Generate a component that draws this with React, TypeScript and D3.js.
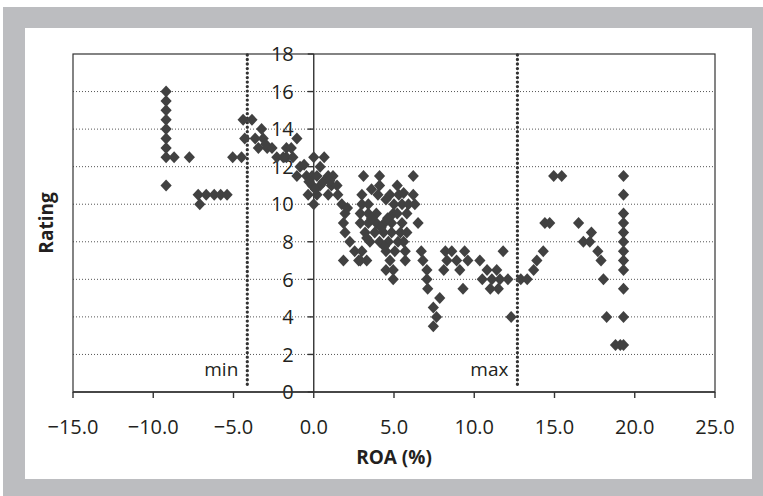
import React from "react";
import * as d3 from "d3";

// ROA (%) values and matching ratings
const roa: number[] = [
  -9.2, -9.2, -9.2, -9.2, -9.2, -9.2, -9.2, -9.2, -9.2,
  -8.7, -7.75,
  -7.2, -7.1, -6.7, -6.2, -5.8, -5.4,
  -5.05, -4.5, -4.3, -4.4, -3.85,
  -3.25, -3.65, -3.15, -3.45, -2.9, -2.6, -3.0,
  -2.3, -1.7, -1.3, -1.7, -1.4, -1.05, -0.85, -1.05, -0.45, -1.9,
  0, 0.65, 0.4, -0.1, 0.2, 0.9, 1.2, -0.1, 0.4, 1.1, 1.45, -0.35, 0.2, 0.9, 0, 1.5, 1.75,
  0.6, 0.1, -0.3, 1.0, -0.6,
  1.95, 1.85, 1.95, 2.25, 2.55, 2.8, 3.3, 1.85, 2.1,
  3.1, 4.1, 6.2,
  4.1, 5.2,
  3.0, 4.0, 4.75, 5.3, 6.2, 3.6, 5.6,
  3.0, 3.4, 5.5, 5.9, 6.3, 5.0, 4.5,
  2.9, 3.4, 3.9, 4.95, 5.2, 5.8,
  2.9, 3.4, 3.9, 4.4, 4.85, 6.5, 3.6, 4.6, 5.5,
  3.2, 3.8, 4.35, 4.85, 5.4, 5.8, 4.2,
  3.5, 4.1, 4.65, 5.25, 5.6, 3.3,
  4.5, 5.05, 5.7, 6.7, 3.0, 4.4,
  2.9, 4.75, 5.7, 6.8,
  4.5, 4.95, 7.05,
  4.95, 7.05,
  7.1, 7.85, 7.45, 7.65, 7.45,
  8.2, 8.6, 9.4, 11.8,
  8.3, 8.9, 9.6, 10.35,
  8.1, 9.1, 10.8, 11.4,
  10.5, 11.1, 11.6, 12.1,
  9.3, 11.0, 11.5,
  12.3,
  12.9, 13.3, 13.7, 13.9, 14.3, 14.4, 14.7, 14.95, 15.45, 16.5, 16.8, 17.3, 17.2, 17.7, 17.9, 18.05, 18.25, 18.8, 19.1,
  19.3, 19.3, 19.3, 19.3, 19.3, 19.3, 19.3, 19.3, 19.3, 19.3, 19.3, 19.3,
];

const rating: number[] = [
  16, 15.5, 15, 14.5, 14, 13.5, 13, 12.5, 11,
  12.5, 12.5,
  10.5, 10, 10.5, 10.5, 10.5, 10.5,
  12.5, 12.5, 13.5, 14.5, 14.5,
  14, 13.5, 13.5, 13, 13, 13, 13.2,
  12.5, 12.5, 12.5, 13, 13, 13.5, 12, 11.5, 11.5, 12.5,
  12.5, 12.5, 12, 11.5, 11.5, 11.5, 11.5, 11, 11, 11, 11, 10.5, 10.5, 10.5, 10, 10.5, 10,
  11.2, 10.8, 11.2, 11.25, 12.1,
  9.5, 9, 8.5, 8, 7.5, 7, 7, 7, 9.8,
  11.5, 11.5, 11.5,
  11, 11,
  10.5, 10.5, 10.5, 10.5, 10.5, 10.8, 10.6,
  10, 10, 10, 10, 10, 10, 10.25,
  9.5, 9.5, 9.5, 9.5, 9.5, 9.5,
  9, 9, 9, 9, 9, 9, 9.25, 9.25, 9,
  8.5, 8.5, 8.5, 8.5, 8.5, 8.5, 8.75,
  8, 8, 8, 8, 8, 8.2,
  7.5, 7.5, 7.5, 7.5, 7.5, 7.75,
  7, 7, 7, 7,
  6.5, 6.5, 6.5,
  6, 6,
  5.5, 5, 4.5, 4, 3.5,
  7.5, 7.5, 7.5, 7.5,
  7, 7, 7, 7,
  6.5, 6.5, 6.5, 6.5,
  6, 6, 6, 6,
  5.5, 5.5, 5.5,
  4,
  6, 6, 6.5, 7, 7.5, 9, 9, 11.5, 11.5, 9, 8, 8.5, 8, 7.5, 7, 6, 4, 2.5, 2.5,
  11.5, 10.5, 9.5, 9, 8.5, 8, 7.5, 7, 6.5, 5.5, 4, 2.5,
];

const xTicks: number[] = [-15, -10, -5, 0, 5, 10, 15, 20, 25];
const yTicks: number[] = [0, 2, 4, 6, 8, 10, 12, 14, 16, 18];
const gridValues: number[] = [2, 4, 6, 8, 10, 12, 14, 16];
const refLines: { label: string; value: number }[] = [
  { label: "min", value: -4.14 },
  { label: "max", value: 12.69 },
];

const W = 763;
const H = 496;
const FONT = "'Open Sans', 'Noto Sans', sans-serif";

export default function App() {
  const x = d3.scaleLinear().domain([-15, 25]).range([73, 715]);
  const y = d3.scaleLinear().domain([0, 18]).range([392, 54]);
  const points = roa.map((v, i) => ({ v, r: rating[i] }));
  const fmt = (t: number) => (t < 0 ? "\u2212" + Math.abs(t).toFixed(1) : t.toFixed(1));
  const diamond = "M0,-6L5.6,0L0,6L-5.6,0Z";
  const x0 = x(0);

  return (
    <svg
      width={W}
      height={H}
      style={{ position: "absolute", left: 0, top: 0, display: "block" }}
      fontFamily={FONT}
    >
      <rect x={0} y={0} width={W} height={H} fill="#ffffff" />
      <rect x={3} y={7} width={W - 3} height={H - 7} fill="#bcbdc0" />
      <rect x={25} y={28} width={727} height={451} fill="#ffffff" />

      {/* gridlines */}
      {gridValues.map((g) => (
        <line
          key={"g" + g}
          x1={x(-15)}
          x2={x(25)}
          y1={y(g)}
          y2={y(g)}
          stroke="#555"
          strokeWidth={1}
          strokeDasharray="1 2"
        />
      ))}

      {/* plot border */}
      <rect
        x={x(-15)}
        y={y(18)}
        width={x(25) - x(-15)}
        height={y(0) - y(18)}
        fill="none"
        stroke="#333"
        strokeWidth={1.2}
      />

      {/* reference lines */}
      {refLines.map((r) => (
        <g key={r.label}>
          <line
            x1={x(r.value)}
            x2={x(r.value)}
            y1={y(18) + 1}
            y2={y(0) - 5}
            stroke="#333"
            strokeWidth={3.3}
            strokeLinecap="round"
            strokeDasharray="0.01 4.5"
          />
          <text
            x={x(r.value) - 9}
            y={y(0) - 16}
            textAnchor="end"
            fontSize={19}
            fill="#231f20"
          >
            {r.label}
          </text>
        </g>
      ))}

      {/* y axis at x = 0 */}
      <line x1={x0} x2={x0} y1={y(0)} y2={y(18)} stroke="#333" strokeWidth={1.4} />
      {yTicks.map((t) => (
        <g key={"y" + t}>
          <line x1={x0 - 6} x2={x0} y1={y(t)} y2={y(t)} stroke="#333" strokeWidth={1.4} />
          <text
            x={x0 - 20}
            y={y(t)}
            dy="0.36em"
            textAnchor="end"
            fontSize={20}
            fill="#231f20"
          >
            {t}
          </text>
        </g>
      ))}

      {/* x axis */}
      <line x1={x(-15)} x2={x(25)} y1={y(0)} y2={y(0)} stroke="#333" strokeWidth={1.4} />
      {xTicks.map((t) => (
        <g key={"x" + t}>
          <line x1={x(t)} x2={x(t)} y1={y(0)} y2={y(0) + 6} stroke="#333" strokeWidth={1.4} />
          <text
            x={x(t)}
            y={y(0) + 42}
            textAnchor="middle"
            fontSize={20}
            fill="#231f20"
          >
            {fmt(t)}
          </text>
        </g>
      ))}

      {/* points */}
      {points.map((p, i) => (
        <path
          key={"p" + i}
          d={diamond}
          transform={`translate(${x(p.v)},${y(p.r)})`}
          fill="#414141"
        />
      ))}

      {/* axis titles */}
      <text
        x={(x(-15) + x(25)) / 2}
        y={464}
        textAnchor="middle"
        fontSize={19}
        fontWeight="bold"
        fill="#231f20"
      >
        ROA (%)
      </text>
      <text
        transform={`translate(53,${(y(0) + y(18)) / 2}) rotate(-90)`}
        textAnchor="middle"
        fontSize={19}
        fontWeight="bold"
        fill="#231f20"
      >
        Rating
      </text>
    </svg>
  );
}
